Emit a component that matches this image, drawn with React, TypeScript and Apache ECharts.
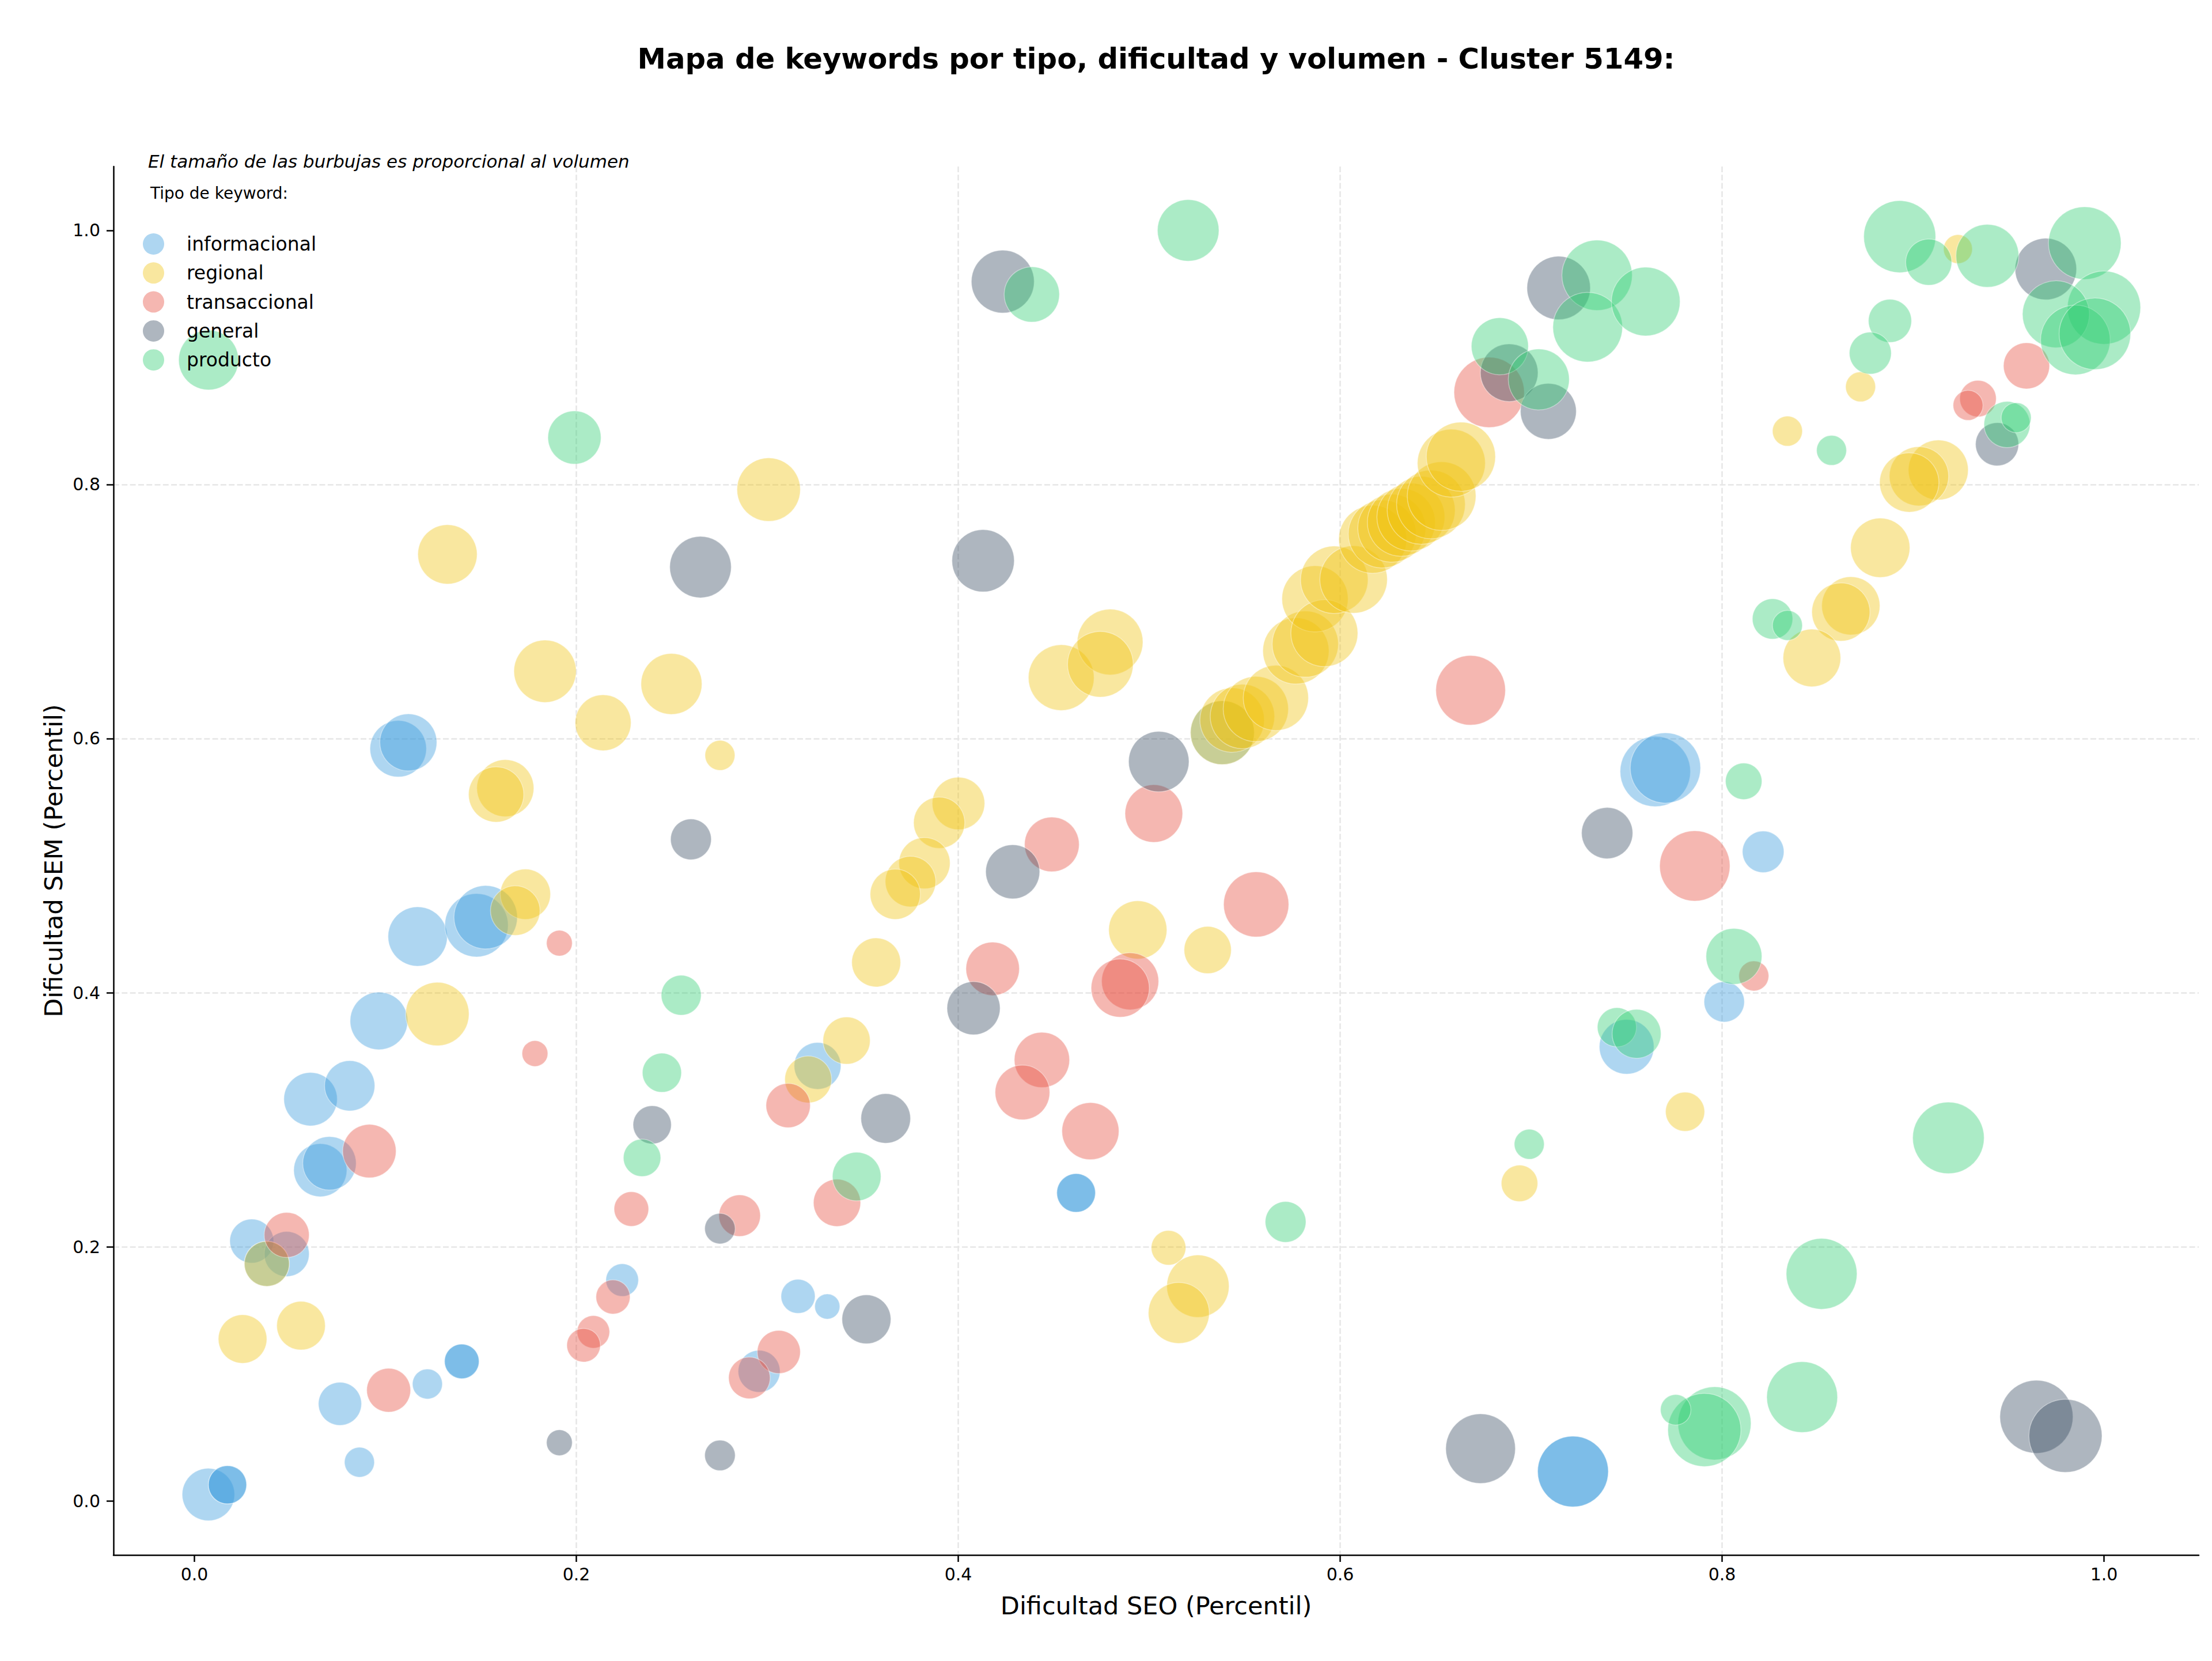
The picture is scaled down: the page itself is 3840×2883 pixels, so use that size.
import React, { useEffect, useRef } from "react";
import * as echarts from "echarts";

const FONT = "DejaVu Sans";

// Tick positions shared by both axes
const ticks = [0, 0.2, 0.4, 0.6, 0.8, 1.0];

// Each point: [dificultad SEO, dificultad SEM, volumen]
const informacional = [
  [0.1067, 0.592, 9600], [0.112, 0.597, 9800], [0.1169, 0.4442, 10600],
  [0.1477, 0.4531, 12100], [0.1525, 0.4594, 12100], [0.0966, 0.3778, 10000],
  [0.0608, 0.3162, 8600], [0.0813, 0.3267, 7600], [0.0659, 0.2603, 8500],
  [0.0707, 0.2657, 8600], [0.03, 0.2045, 5800], [0.0483, 0.1943, 6100],
  [0.0379, 0.1866, 6100], [0.0762, 0.0764, 5600], [0.122, 0.092, 2700],
  [0.14, 0.1098, 3600], [0.14, 0.1098, 3600], [0.0864, 0.0304, 2700],
  [0.0073, 0.005, 8300], [0.0173, 0.0127, 4400], [0.0173, 0.0127, 4400],
  [0.224, 0.1738, 3200], [0.3263, 0.3424, 6600], [0.3161, 0.161, 3500],
  [0.3314, 0.153, 1900], [0.2957, 0.102, 5300], [0.4617, 0.2424, 4500],
  [0.4617, 0.2424, 4500], [0.5383, 0.6047, 12300], [0.765, 0.5741, 14900],
  [0.7703, 0.5769, 14900], [0.8215, 0.5109, 5200], [0.8011, 0.3928, 4900],
  [0.75, 0.3574, 9000], [0.7219, 0.0231, 15100], [0.7219, 0.0231, 15100],
];

const regional = [
  [0.1325, 0.745, 10600], [0.1836, 0.653, 11700], [0.214, 0.6125, 9400],
  [0.1628, 0.561, 9800], [0.158, 0.556, 9200], [0.3007, 0.796, 12100],
  [0.2498, 0.643, 11200], [0.4539, 0.648, 13000], [0.4795, 0.676, 13000],
  [0.4744, 0.6585, 13000], [0.2752, 0.5868, 2700], [0.4001, 0.549, 8300],
  [0.39, 0.5338, 7900], [0.3823, 0.502, 7900], [0.375, 0.4875, 7700],
  [0.367, 0.4775, 7600], [0.357, 0.4238, 7200], [0.1733, 0.4775, 7600],
  [0.168, 0.4646, 7400], [0.1272, 0.3832, 12100], [0.0379, 0.1866, 6100],
  [0.0252, 0.1274, 7100], [0.0558, 0.1379, 7100], [0.3415, 0.3623, 6700],
  [0.3214, 0.3317, 6600], [0.494, 0.4494, 10200], [0.5306, 0.4336, 6700],
  [0.5101, 0.1992, 3600], [0.5255, 0.169, 11700], [0.5155, 0.1479, 11200],
  [0.6939, 0.2499, 4000], [0.7806, 0.3063, 4600],
  [0.5383, 0.6047, 12300], [0.5434, 0.6146, 12500], [0.5488, 0.6174, 12500],
  [0.5558, 0.6233, 12800], [0.5663, 0.632, 12800], [0.5768, 0.669, 13200],
  [0.5817, 0.6744, 13200], [0.5868, 0.71, 13200], [0.5917, 0.683, 13500],
  [0.5969, 0.725, 13700], [0.607, 0.7253, 13700], [0.617, 0.7569, 13900],
  [0.622, 0.7611, 13900], [0.627, 0.7656, 13900], [0.632, 0.7702, 13900],
  [0.637, 0.7744, 13900], [0.6424, 0.7797, 13900], [0.6475, 0.7843, 14200],
  [0.6531, 0.7909, 14200], [0.6582, 0.8168, 13900], [0.6632, 0.8219, 14400],
  [0.9235, 0.9853, 2500], [0.8725, 0.8769, 2700], [0.8342, 0.842, 2700],
  [0.9132, 0.8114, 10800], [0.9031, 0.8065, 10600], [0.898, 0.8016, 10600],
  [0.8828, 0.7502, 10600], [0.8674, 0.7045, 10200], [0.8622, 0.6996, 10200],
  [0.847, 0.6635, 10000],
];

const transaccional = [
  [0.1911, 0.439, 2000], [0.1783, 0.3521, 2000], [0.0916, 0.2753, 8600],
  [0.0483, 0.2093, 6100], [0.1017, 0.0871, 5800], [0.2192, 0.1605, 3500],
  [0.2089, 0.133, 3200], [0.2038, 0.1225, 3400], [0.2288, 0.2297, 3600],
  [0.2855, 0.2245, 5200], [0.3109, 0.3112, 5900], [0.3365, 0.2346, 6700],
  [0.306, 0.1172, 5600], [0.2906, 0.0968, 5200], [0.449, 0.5167, 9000],
  [0.418, 0.4188, 8600], [0.49, 0.409, 9800], [0.4848, 0.4036, 10200],
  [0.4438, 0.3471, 9200], [0.4336, 0.3215, 9000], [0.4692, 0.291, 9800],
  [0.5024, 0.541, 10000], [0.556, 0.4695, 12800], [0.6683, 0.638, 14600],
  [0.678, 0.8725, 14900], [0.7857, 0.4998, 14900], [0.8166, 0.4132, 2700],
  [0.9594, 0.8934, 6400], [0.934, 0.8676, 4000], [0.9288, 0.8623, 2700],
];

const general = [
  [0.4233, 0.9597, 11900], [0.265, 0.735, 11400], [0.413, 0.74, 11700],
  [0.26, 0.5207, 5000], [0.505, 0.5819, 11000], [0.4285, 0.4952, 8800],
  [0.408, 0.3878, 8500], [0.2397, 0.296, 4400], [0.2752, 0.2143, 2800],
  [0.362, 0.301, 7400], [0.3519, 0.1429, 7200], [0.2752, 0.0358, 2800],
  [0.1911, 0.0458, 2000], [0.7144, 0.9547, 12100], [0.6885, 0.888, 10000],
  [0.709, 0.8576, 9400], [0.7398, 0.5256, 7900], [0.6735, 0.0411, 14600],
  [0.9695, 0.9696, 11400], [0.944, 0.8317, 5600], [0.9646, 0.0662, 16100],
  [0.9798, 0.0512, 16100],
];

const producto = [
  [0.0074, 0.898, 10800], [0.199, 0.837, 8500], [0.4385, 0.9496, 9200],
  [0.5204, 1.0, 11400], [0.2549, 0.398, 4800], [0.2448, 0.337, 4600],
  [0.2344, 0.27, 4200], [0.3468, 0.2553, 7100], [0.5714, 0.2196, 5000],
  [0.7449, 0.3728, 4600], [0.7552, 0.3676, 7200], [0.699, 0.2807, 2700],
  [0.8062, 0.4286, 9400], [0.8113, 0.5664, 4000], [0.9185, 0.2857, 15400],
  [0.8521, 0.1787, 15100], [0.8419, 0.0817, 15100], [0.796, 0.061, 16100],
  [0.7907, 0.0558, 16100], [0.7757, 0.0717, 2800], [0.7345, 0.9647, 14900],
  [0.7296, 0.9238, 14600], [0.76, 0.944, 14200], [0.6836, 0.9088, 9800],
  [0.704, 0.8827, 11200], [0.893, 0.9951, 15600], [0.9082, 0.975, 6400],
  [0.9389, 0.98, 11900], [0.9899, 0.99, 15900], [1.0, 0.9392, 16100],
  [0.9748, 0.934, 13500], [0.985, 0.9138, 14600], [0.9952, 0.9186, 15400],
  [0.9492, 0.8472, 6400], [0.954, 0.8526, 2700], [0.8879, 0.9288, 5600],
  [0.8776, 0.9034, 5300], [0.8573, 0.8269, 2700], [0.8264, 0.6942, 4900],
  [0.8342, 0.6891, 2700],
];

const tipos = ["informacional", "regional", "transaccional", "general", "producto"];
const puntosPorTipo = [informacional, regional, transaccional, general, producto];
const coloresRgb = ["52,152,219", "241,196,15", "231,76,60", "52,73,94", "46,204,113"];

export default function App() {
  const ref = useRef<HTMLDivElement>(null);

  useEffect(() => {
    const chart = echarts.init(ref.current!, null, { renderer: "svg" });

    const series = tipos.map((nombre, i) => ({
      name: nombre,
      type: "scatter",
      data: puntosPorTipo[i],
      symbol: "circle",
      // marker area follows the keyword volume
      symbolSize: (v: number[]) => Math.sqrt(v[2]),
      itemStyle: {
        color: `rgba(${coloresRgb[i]},0.5)`,
        borderColor: "rgba(255,255,255,0.5)",
        borderWidth: 1.5,
      },
      emphasis: { disabled: true },
      z: 2,
    }));

    const gridLine = {
      show: true,
      showMinLine: false,
      showMaxLine: false,
      lineStyle: { color: "#e6e6e6", width: 2.5, type: [10, 4.3] },
    };
    const axisLine = { show: true, onZero: false, lineStyle: { color: "#000", width: 2.5 } };
    const axisTick = { show: true, length: 12, customValues: ticks, lineStyle: { color: "#000", width: 2.5 } };
    const nameStyle = { fontFamily: FONT, fontSize: 43, color: "#000" };

    chart.setOption({
      animation: false,
      textStyle: { fontFamily: FONT },
      grid: { left: 197, top: 289, width: 3620, height: 2410, containLabel: false },
      xAxis: {
        type: "value",
        min: -0.0424,
        max: 1.0496,
        splitNumber: 5,
        name: "Dificultad SEO (Percentil)",
        nameLocation: "middle",
        nameGap: 66,
        nameTextStyle: nameStyle,
        axisLine,
        axisTick,
        axisLabel: {
          customValues: ticks,
          formatter: (v: number) => v.toFixed(1),
          fontFamily: FONT,
          fontSize: 30,
          color: "#000",
          margin: 18,
        },
        splitLine: gridLine,
      },
      yAxis: {
        type: "value",
        min: -0.0426,
        max: 1.0503,
        splitNumber: 5,
        name: "Dificultad SEM (Percentil)",
        nameLocation: "middle",
        nameGap: 83,
        nameTextStyle: nameStyle,
        axisLine,
        axisTick,
        axisLabel: {
          customValues: ticks,
          formatter: (v: number) => v.toFixed(1),
          fontFamily: FONT,
          fontSize: 30,
          color: "#000",
          margin: 23,
        },
        splitLine: gridLine,
      },
      legend: {
        orient: "vertical",
        left: 243,
        top: 400,
        itemWidth: 37,
        itemHeight: 37,
        itemGap: 13.3,
        icon: "circle",
        itemStyle: { borderWidth: 0 },
        textStyle: {
          fontFamily: FONT,
          fontSize: 33,
          color: "#000",
          lineHeight: 37,
          padding: [0, 0, 0, 34],
        },
        data: tipos,
        z: 10,
      },
      graphic: [
        {
          type: "text",
          x: 2007,
          y: 102,
          style: {
            text: "Mapa de keywords por tipo, dificultad y volumen - Cluster 5149:",
            font: `bold 49.7px "${FONT}"`,
            fill: "#000",
            align: "center",
            verticalAlign: "middle",
          },
        },
        {
          type: "text",
          x: 257,
          y: 280,
          style: {
            text: "El tamaño de las burbujas es proporcional al volumen",
            font: `italic 31px "${FONT}"`,
            fill: "#000",
            align: "left",
            verticalAlign: "middle",
          },
        },
        {
          type: "text",
          x: 261,
          y: 335,
          style: {
            text: "Tipo de keyword:",
            font: `28px "${FONT}"`,
            fill: "#000",
            align: "left",
            verticalAlign: "middle",
          },
        },
      ],
      series,
    });

    return () => chart.dispose();
  }, []);

  return (
    <div
      ref={ref}
      style={{ position: "absolute", left: 0, top: 0, width: 3840, height: 2883, background: "#fff" }}
    />
  );
}
